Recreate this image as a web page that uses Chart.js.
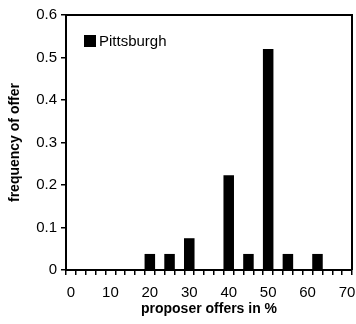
<!DOCTYPE html>
<html>
<head>
<meta charset="utf-8">
<script src="https://cdn.jsdelivr.net/npm/chart.js@4"></script>
<style>
  body { margin: 0; background: #fff; }
  #wrap { position: relative; width: 356px; height: 324px; }
  #legend { position: absolute; left: 84px; top: 32px; font: 15px "Liberation Sans", Arial, sans-serif; color: #000; }
  #legend span.box { display: inline-block; width: 12px; height: 12px; background: #000; vertical-align: -1px; margin-right: 3px; }
</style>
</head>
<body>
<div id="wrap">
  <canvas id="chart" width="356" height="324"></canvas>
  <div id="legend"><span class="box"></span>Pittsburgh</div>
</div>
<script>
// x categories (proposer offer in %), 2.5 steps
const categories = ['0','2.5','5','7.5','10','12.5','15','17.5','20','22.5','25','27.5','30','32.5','35','37.5',
  '40','42.5','45','47.5','50','52.5','55','57.5','60','62.5','65','67.5','70'];

// observed offers and their frequency (Pittsburgh)
const offers = ['20', '25', '30', '40', '45', '50', '55', '62.5'];
const frequency = [0.037, 0.037, 0.074, 0.222, 0.037, 0.519, 0.037, 0.037];

const yTicks = [0, 0.1, 0.2, 0.3, 0.4, 0.5, 0.6];

const data = categories.map(c => {
  const i = offers.indexOf(c);
  return i >= 0 ? frequency[i] : null;
});

const font = { family: '"Liberation Sans", Arial, sans-serif', size: 15 };
const boldFont = { family: '"Liberation Sans", Arial, sans-serif', size: 14, weight: 'bold' };

// frame on top and right of plot area
const frame = {
  id: 'frame',
  afterDraw(chart) {
    const { ctx, chartArea: a } = chart;
    ctx.save();
    ctx.strokeStyle = '#000';
    ctx.lineWidth = 2;
    ctx.beginPath();
    ctx.moveTo(a.left, a.top);
    ctx.lineTo(a.right, a.top);
    ctx.lineTo(a.right, a.bottom);
    ctx.stroke();
    ctx.restore();
  }
};

new Chart(document.getElementById('chart'), {
  type: 'bar',
  data: {
    labels: categories,
    datasets: [{
      label: 'Pittsburgh',
      data: data,
      backgroundColor: '#000',
      barPercentage: 1,
      categoryPercentage: 1
    }]
  },
  options: {
    responsive: false,
    animation: false,
    layout: { padding: { top: 15, right: 4, left: 0, bottom: 6 } },
    plugins: { legend: { display: false }, tooltip: { enabled: false } },
    scales: {
      x: {
        afterFit(s) { s.height = 48; s.paddingLeft = 0; s.paddingRight = 0; },
        grid: { drawOnChartArea: false, tickLength: 5, color: '#000', lineWidth: 1.5 },
        border: { display: true, color: '#000', width: 2 },
        ticks: {
          autoSkip: false, maxRotation: 0, color: '#000', font: font, padding: 9,
          callback(v, i) { return i % 4 === 0 ? categories[i] : ''; }
        },
        title: { display: true, text: 'proposer offers in %', color: '#000', font: boldFont, padding: 0 }
      },
      y: {
        min: 0, max: 0.6,
        afterFit(s) { s.width = 66; s.paddingTop = 0; s.paddingBottom = 0; },
        afterBuildTicks(s) { s.ticks = yTicks.map(v => ({ value: v })); },
        grid: { drawOnChartArea: false, tickLength: 5, color: '#000', lineWidth: 1.5 },
        border: { display: true, color: '#000', width: 2 },
        ticks: { color: '#000', font: font, padding: 4, callback: v => String(v) },
        title: { display: true, text: 'frequency of offer', color: '#000', font: boldFont, padding: { top: 7, bottom: 0 } }
      }
    }
  },
  plugins: [frame]
});
</script>
</body>
</html>
